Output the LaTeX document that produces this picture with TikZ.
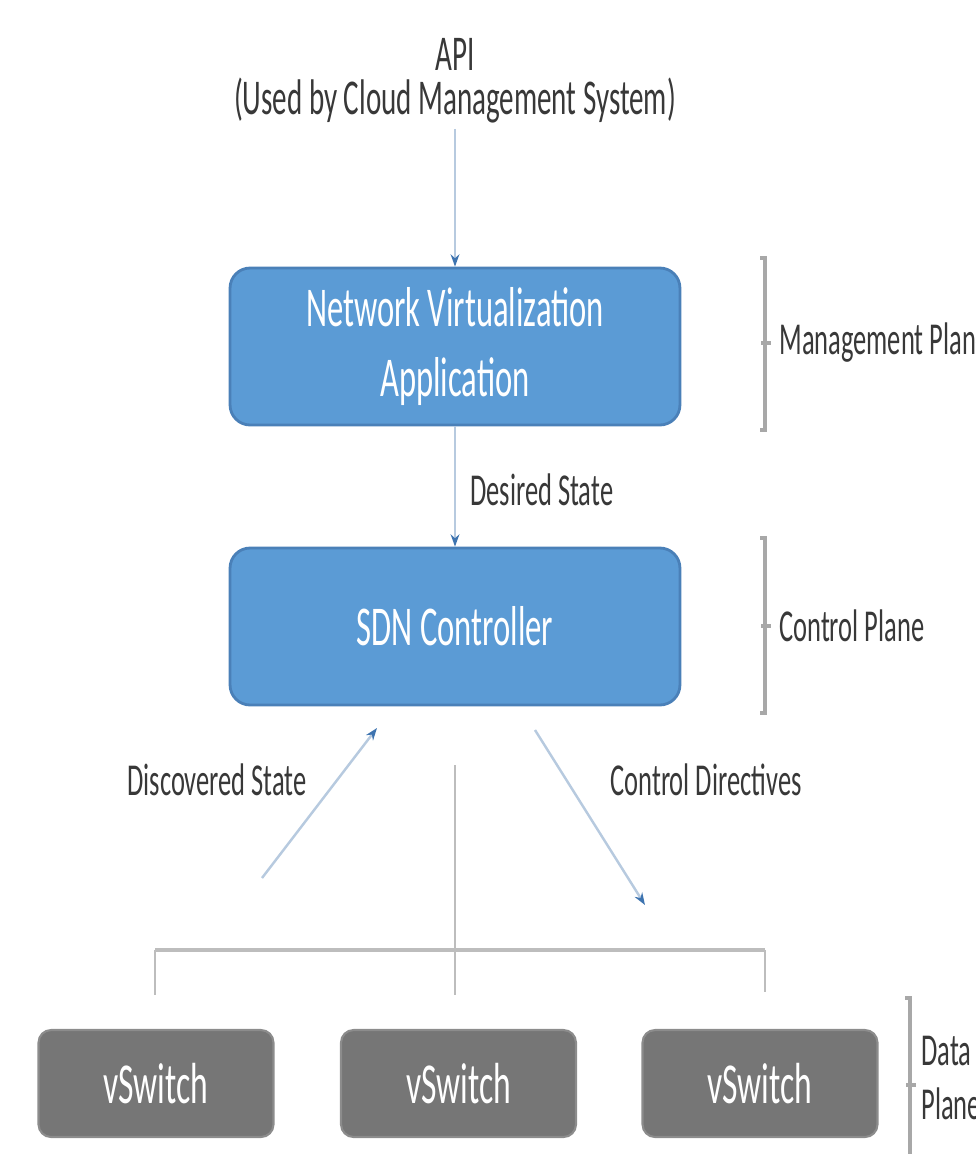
\documentclass[tikz,border=0pt]{standalone}
\usepackage{fontspec}
\setmainfont{Carlito}[FakeStretch=0.58]
\usetikzlibrary{arrows.meta}
\definecolor{boxblue}{HTML}{5B9BD5}
\definecolor{boxblueedge}{HTML}{4A80B8}
\definecolor{switchgray}{HTML}{767676}
\definecolor{switchedge}{HTML}{8C8C8C}
\definecolor{linkblue}{HTML}{B7CADF}
\definecolor{tipblue}{HTML}{3E74B0}
\definecolor{wiregray}{HTML}{BDBDBD}
\definecolor{bracegray}{HTML}{A8A8A8}
\definecolor{labelgray}{HTML}{383838}
\begin{document}
\begin{tikzpicture}[x=0.02cm,y=-0.02cm,
  bluebox/.style={draw=boxblueedge, line width=1.6pt, fill=boxblue, rounded corners=0.4cm,
    minimum width=9cm, minimum height=3.14cm, text=white, align=center,
    font=\fontsize{32}{40}\selectfont},
  switchbox/.style={draw=switchedge, line width=1.2pt, fill=switchgray, rounded corners=0.25cm,
    minimum width=4.7cm, minimum height=2.14cm, text=white,
    font=\fontsize{33}{36}\selectfont},
  lbl/.style={text=labelgray, inner sep=0pt, font=\fontsize{26}{30}\selectfont},
  apitext/.style={lbl, font=\fontsize{28.5}{30}\selectfont},
  flow/.style={draw=linkblue, line width=1.4pt,
    -{Stealth[length=7pt, width=5pt, color=tipblue]}},
  wire/.style={draw=wiregray, line width=1.6pt},
  busbar/.style={draw=wiregray, line width=2.8pt},
  brace/.style={draw=bracegray, line width=1.8pt}]
\useasboundingbox (0,0) rectangle (975,1154);
\clip (0,0) rectangle (975,1154);

% API caption
\node[apitext] (api) at (455,54) {API};
\node[apitext] (cms) at (455,100) {(Used by Cloud Management System)};

% planes
\node[bluebox] (nva) at (455,346.5) {Network Virtualization\\Application};
\node[bluebox] (sdn) at (455,626.5) {SDN Controller};

\node[switchbox] (sw1) at (156,1083.5) {vSwitch};
\node[switchbox] (sw2) at (458.5,1083.5) {vSwitch};
\node[switchbox] (sw3) at (760,1083.5) {vSwitch};

% vertical flows
\draw[flow] (cms.south) ++(0,6) coordinate (apiout) -- (nva.north);
\draw[flow] (nva.south) -- (sdn.north);
\node[lbl, anchor=west] (desired) at (470,490) {Desired State};

% state exchange between controller and switches
\coordinate (dsfrom) at (262,878);
\coordinate (dsto) at (377,728);
\coordinate (cdfrom) at (535,730);
\coordinate (cdto) at (645,905);
\draw[flow] (dsfrom) -- (dsto);
\draw[flow] (cdfrom) -- (cdto);
\node[lbl] (discovered) at (217,780) {Discovered State};
\node[lbl] (directives) at (706,780) {Control Directives};

% switch bus
\coordinate (trunktop) at (455,765);
\coordinate (hub) at (455,950);
\coordinate (busL) at (155,950);
\coordinate (busR) at (765,950);
\coordinate (dropL) at (155,995);
\coordinate (dropM) at (455,995);
\coordinate (dropR) at (765,992);
\draw[wire] (trunktop) -- (dropM);
\draw[busbar] (busL) -- (busR);
\draw[wire] (busL) -- (dropL);
\draw[wire] (busR) -- (dropR);

% plane brackets
\coordinate (mgTop) at (765,258);
\coordinate (mgMid) at (765,343);
\coordinate (mgBot) at (765,430);
\draw[brace] (mgTop) ++(-5,0) -- (mgTop) -- (mgBot) -- ++(-5,0);
\draw[brace] (mgMid) ++(-4,0) -- ++(10,0);
\node[lbl, anchor=west] (mgmt) at (779,343) {Management Plane};

\coordinate (ctTop) at (765,538);
\coordinate (ctMid) at (765,626);
\coordinate (ctBot) at (765,713);
\draw[brace] (ctTop) ++(-5,0) -- (ctTop) -- (ctBot) -- ++(-5,0);
\draw[brace] (ctMid) ++(-4,0) -- ++(10,0);
\node[lbl, anchor=west] (ctrl) at (779,626) {Control Plane};

\coordinate (dpTop) at (910,998);
\coordinate (dpMid) at (910,1085);
\coordinate (dpBot) at (910,1172);
\draw[brace] (dpTop) ++(-5,0) -- (dpTop) -- (dpBot);
\draw[brace] (dpMid) ++(-4,0) -- ++(10,0);
\node[lbl, anchor=west, align=left, font=\fontsize{26}{31}\selectfont] (data) at (921,1078)
  {Data\\Plane};
\end{tikzpicture}
\end{document}
